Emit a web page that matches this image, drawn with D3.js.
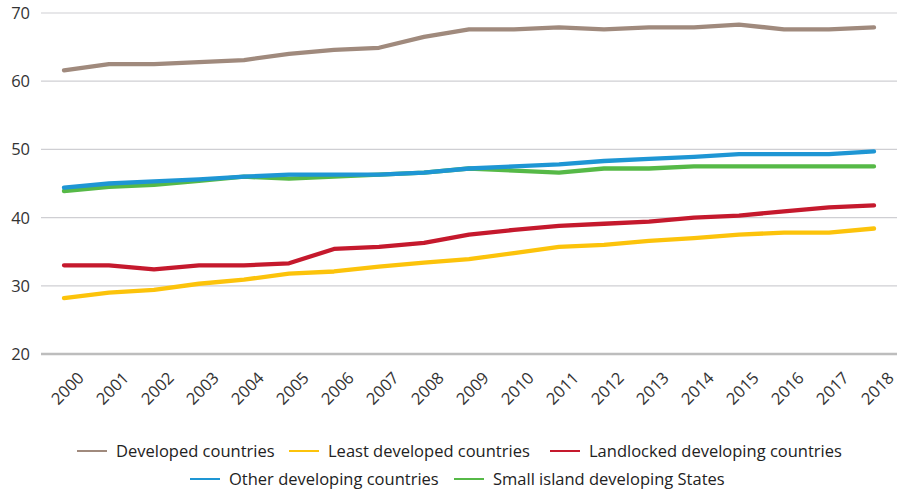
<!DOCTYPE html>
<html><head><meta charset="utf-8">
<script src="https://cdn.jsdelivr.net/npm/d3@7"></script>
<style>body{margin:0;background:#fff;} text{font-family:"Open Sans","Noto Sans",Arial,sans-serif;}</style>
</head><body>
<svg id="c" width="904" height="490"></svg>
<script>
const years = [2000,2001,2002,2003,2004,2005,2006,2007,2008,2009,2010,2011,2012,2013,2014,2015,2016,2017,2018];
const developed = [61.6,62.5,62.5,62.8,63.1,64.0,64.6,64.9,66.5,67.6,67.6,67.9,67.6,67.9,67.9,68.3,67.6,67.6,67.9];
const leastDeveloped = [28.2,29.0,29.4,30.3,30.9,31.8,32.1,32.8,33.4,33.9,34.8,35.7,36.0,36.6,37.0,37.5,37.8,37.8,38.4];
const landlocked = [33.0,33.0,32.4,33.0,33.0,33.3,35.4,35.7,36.3,37.5,38.2,38.8,39.1,39.4,40.0,40.3,40.9,41.5,41.8];
const otherDeveloping = [44.4,45.0,45.3,45.6,46.0,46.3,46.3,46.3,46.6,47.2,47.5,47.8,48.3,48.6,48.9,49.3,49.3,49.3,49.7];
const sids = [43.9,44.5,44.8,45.4,46.0,45.7,46.0,46.3,46.6,47.2,46.9,46.6,47.2,47.2,47.5,47.5,47.5,47.5,47.5];
const yTicks = [20,30,40,50,60,70];

const series = [
  {name:"Developed countries", values:developed, color:"#a08a7d"},
  {name:"Least developed countries", values:leastDeveloped, color:"#fcc30b"},
  {name:"Landlocked developing countries", values:landlocked, color:"#c5192d"},
  {name:"Other developing countries", values:otherDeveloping, color:"#1e96d4"},
  {name:"Small island developing States", values:sids, color:"#56b947"}
];
const drawOrder = [0,1,2,4,3].map(i=>series[i]);

const svg = d3.select("#c");
const x = d3.scalePoint().domain(years).range([64,874]);
const y = d3.scaleLinear().domain([20,70]).range([354,13]);
const gridL = 41, gridR = 897;

svg.append("g").selectAll("line").data(yTicks).join("line")
  .attr("x1",gridL).attr("x2",gridR)
  .attr("y1",d=>y(d)).attr("y2",d=>y(d))
  .attr("stroke",d=>d===20?"#bdbdbd":"#cfcfd3")
  .attr("stroke-width",d=>d===20?2.5:1.2);

svg.append("g").selectAll("text").data(yTicks).join("text")
  .attr("x",30).attr("y",d=>y(d)).attr("dy","0.36em")
  .attr("text-anchor","end").attr("font-size",16.5).attr("fill","#333")
  .text(d=>d);

svg.append("g").selectAll("text").data(years).join("text")
  .attr("transform",d=>`translate(${x(d)+21},${379}) rotate(-45)`)
  .attr("text-anchor","end").attr("font-size",16.5).attr("fill","#333")
  .text(d=>d);

const line = d3.line().x((d,i)=>x(years[i])).y(d=>y(d));
svg.append("g").selectAll("path").data(drawOrder).join("path")
  .attr("d",d=>line(d.values)).attr("fill","none")
  .attr("stroke",d=>d.color).attr("stroke-width",4.3)
  .attr("stroke-linecap","round").attr("stroke-linejoin","round");

const legend = [
  {s:series[0], x:77, y:451},
  {s:series[1], x:289, y:451},
  {s:series[2], x:550, y:451},
  {s:series[3], x:190, y:479},
  {s:series[4], x:454, y:479}
];
const lg = svg.append("g").selectAll("g").data(legend).join("g")
  .attr("transform",d=>`translate(${d.x},${d.y})`);
lg.append("line").attr("x1",0).attr("x2",30).attr("y1",0).attr("y2",0)
  .attr("stroke",d=>d.s.color).attr("stroke-width",2);
lg.append("text").attr("x",39).attr("y",0).attr("dy","0.36em")
  .attr("font-size",16.5).attr("fill","#222").text(d=>d.s.name);
</script>
</body></html>
